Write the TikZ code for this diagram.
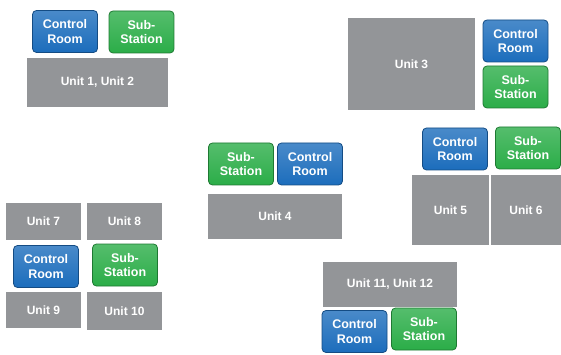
\documentclass[tikz,border=0pt]{standalone}
\usepackage{fontspec}
\setmainfont{Liberation Sans}
\usetikzlibrary{positioning}
\definecolor{gris}{HTML}{939598}
\definecolor{azul}{HTML}{1C6DBC}
\definecolor{verde}{HTML}{2BAD48}

\begin{document}
\begin{tikzpicture}[x=1pt, y=-1pt,
      font=\fontsize{12}{14}\selectfont\bfseries,
      unit/.style={fill=gris, text=white, inner sep=0pt},
      room/.style={rounded corners=4pt, text=white, align=center, inner sep=0pt,
                   font=\fontsize{12.5}{14.5}\selectfont\bfseries,
                   minimum width=65pt, minimum height=42pt, line width=0.8pt},
      cr/.style={room, draw=azul!70!black, top color=azul!80!white, bottom color=azul},
      ss/.style={room, draw=verde!70!black, top color=verde!80!white, bottom color=verde}]
    \useasboundingbox (0,0) rectangle (561,355);
    % top left
    \node[cr] (cr1) at (65,31.5) {Control\\Room};
    \node[ss] (ss1) at (141.5,32) {Sub-\\Station};
    \node[unit, minimum width=141pt, minimum height=49pt] (u12) at (97.5,82.5) {Unit 1, Unit 2};
    % top right
    \node[unit, minimum width=127pt, minimum height=92pt] (u3) at (411.5,64) {Unit 3};
    \node[cr] (cr3) at (515.5,41) {Control\\Room};
    \node[ss] (ss3) at (515.5,87) {Sub-\\Station};
    % middle
    \node[ss] (ss4) at (241,164) {Sub-\\Station};
    \node[cr] (cr4) at (310,164) {Control\\Room};
    \node[unit, minimum width=134pt, minimum height=45pt] (u4) at (275,216.5) {Unit 4};
    % right
    \node[cr] (cr5) at (455,149) {Control\\Room};
    \node[ss] (ss5) at (528,148) {Sub-\\Station};
    \node[unit, minimum width=77pt, minimum height=70pt] (u5) at (450.5,210) {Unit 5};
    \node[unit, minimum width=70pt, minimum height=70pt] (u6) at (526,210) {Unit 6};
    % bottom left
    \node[unit, minimum width=75pt, minimum height=37pt] (u7) at (43.5,221.5) {Unit 7};
    \node[unit, minimum width=75pt, minimum height=37pt] (u8) at (124.5,221.5) {Unit 8};
    \node[cr] (cr7) at (46,266.5) {Control\\Room};
    \node[ss] (ss7) at (125,265) {Sub-\\Station};
    \node[unit, minimum width=75pt, minimum height=36pt] (u9) at (43.5,310) {Unit 9};
    \node[unit, minimum width=75pt, minimum height=38pt] (u10) at (124.5,311) {Unit 10};
    % bottom
    \node[unit, minimum width=134pt, minimum height=45pt] (u11) at (390,284.5) {Unit 11, Unit 12};
    \node[cr] (cr11) at (354.5,331.5) {Control\\Room};
    \node[ss] (ss11) at (424,329) {Sub-\\Station};
  \end{tikzpicture}
\end{document}
